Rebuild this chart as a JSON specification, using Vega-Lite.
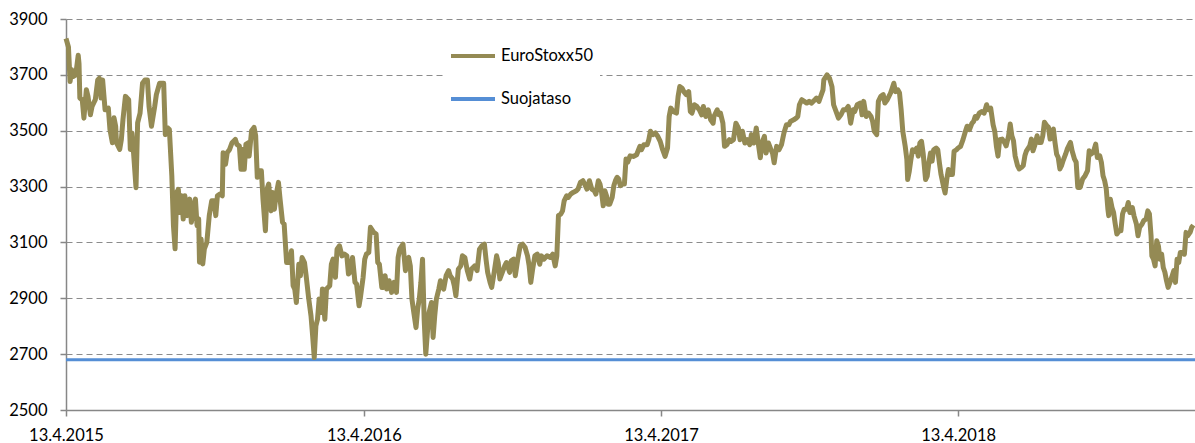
{
"$schema": "https://vega.github.io/schema/vega-lite/v6.json",
"width": 1129, "height": 391,
"autosize": {"type": "none"},
"padding": {"left": 66, "top": 19, "right": 0, "bottom": 33},
"background": "white",
"config": {"view": {"stroke": null}, "font": "Lato"},
"datasets": {
"suoja": [
{"date":"2015-04-13","value":2680},{"date":"2019-01-29","value":2680}
],
"stoxx": [
{"date":"2015-04-13","value":3830},{"date":"2015-04-16","value":3800},{"date":"2015-04-18","value":3676},{"date":"2015-04-20","value":3718},{"date":"2015-04-22","value":3694},{"date":"2015-04-25","value":3700},{"date":"2015-04-28","value":3770},{"date":"2015-04-29","value":3740},{"date":"2015-04-30","value":3617},
{"date":"2015-05-03","value":3610},{"date":"2015-05-05","value":3545},{"date":"2015-05-08","value":3647},{"date":"2015-05-10","value":3623},{"date":"2015-05-13","value":3557},{"date":"2015-05-15","value":3587},{"date":"2015-05-19","value":3611},{"date":"2015-05-22","value":3682},{"date":"2015-05-24","value":3688},{"date":"2015-05-26","value":3617},{"date":"2015-05-28","value":3682},{"date":"2015-05-31","value":3575},
{"date":"2015-06-04","value":3581},{"date":"2015-06-06","value":3504},{"date":"2015-06-09","value":3457},{"date":"2015-06-11","value":3546},{"date":"2015-06-13","value":3516},{"date":"2015-06-14","value":3457},{"date":"2015-06-18","value":3433},{"date":"2015-06-20","value":3468},{"date":"2015-06-22","value":3540},{"date":"2015-06-25","value":3623},{"date":"2015-06-29","value":3611},
{"date":"2015-07-01","value":3433},{"date":"2015-07-03","value":3492},{"date":"2015-07-05","value":3421},{"date":"2015-07-08","value":3296},{"date":"2015-07-10","value":3528},{"date":"2015-07-13","value":3563},{"date":"2015-07-16","value":3670},{"date":"2015-07-19","value":3682},{"date":"2015-07-22","value":3682},{"date":"2015-07-24","value":3587},{"date":"2015-07-27","value":3516},{"date":"2015-07-31","value":3587},
{"date":"2015-08-02","value":3629},{"date":"2015-08-06","value":3670},{"date":"2015-08-09","value":3670},{"date":"2015-08-11","value":3670},{"date":"2015-08-13","value":3486},{"date":"2015-08-16","value":3510},{"date":"2015-08-18","value":3504},{"date":"2015-08-21","value":3338},{"date":"2015-08-23","value":3160},{"date":"2015-08-25","value":3077},{"date":"2015-08-27","value":3279},{"date":"2015-08-29","value":3290},{"date":"2015-08-31","value":3207},
{"date":"2015-09-02","value":3267},{"date":"2015-09-04","value":3184},{"date":"2015-09-06","value":3267},{"date":"2015-09-09","value":3196},{"date":"2015-09-12","value":3255},{"date":"2015-09-14","value":3172},{"date":"2015-09-17","value":3231},{"date":"2015-09-19","value":3255},{"date":"2015-09-21","value":3160},{"date":"2015-09-23","value":3184},{"date":"2015-09-24","value":3029},{"date":"2015-09-26","value":3112},{"date":"2015-09-28","value":3023},{"date":"2015-09-30","value":3077},
{"date":"2015-10-03","value":3100},{"date":"2015-10-06","value":3196},{"date":"2015-10-09","value":3249},{"date":"2015-10-12","value":3249},{"date":"2015-10-14","value":3196},{"date":"2015-10-16","value":3267},{"date":"2015-10-19","value":3273},{"date":"2015-10-22","value":3267},{"date":"2015-10-23","value":3421},{"date":"2015-10-26","value":3380},{"date":"2015-10-28","value":3421},{"date":"2015-10-31","value":3433},
{"date":"2015-11-03","value":3457},{"date":"2015-11-07","value":3469},{"date":"2015-11-09","value":3451},{"date":"2015-11-12","value":3445},{"date":"2015-11-14","value":3362},{"date":"2015-11-16","value":3433},{"date":"2015-11-18","value":3362},{"date":"2015-11-20","value":3451},{"date":"2015-11-23","value":3457},{"date":"2015-11-24","value":3409},{"date":"2015-11-27","value":3500},{"date":"2015-11-30","value":3512},
{"date":"2015-12-02","value":3482},{"date":"2015-12-04","value":3333},{"date":"2015-12-07","value":3357},{"date":"2015-12-09","value":3357},{"date":"2015-12-11","value":3255},{"date":"2015-12-14","value":3142},{"date":"2015-12-16","value":3291},{"date":"2015-12-18","value":3309},{"date":"2015-12-21","value":3213},{"date":"2015-12-23","value":3279},{"date":"2015-12-25","value":3219},{"date":"2015-12-27","value":3267},{"date":"2015-12-30","value":3315},
{"date":"2016-01-01","value":3255},{"date":"2016-01-04","value":3172},{"date":"2016-01-06","value":3166},{"date":"2016-01-09","value":3028},{"date":"2016-01-12","value":3028},{"date":"2016-01-15","value":3070},{"date":"2016-01-17","value":2945},{"date":"2016-01-19","value":2933},{"date":"2016-01-21","value":2885},{"date":"2016-01-24","value":3022},{"date":"2016-01-26","value":2981},{"date":"2016-01-28","value":3046},{"date":"2016-01-31","value":3028},
{"date":"2016-02-02","value":2981},{"date":"2016-02-05","value":2903},{"date":"2016-02-08","value":2837},{"date":"2016-02-10","value":2766},{"date":"2016-02-12","value":2688},{"date":"2016-02-14","value":2801},{"date":"2016-02-16","value":2825},{"date":"2016-02-18","value":2897},{"date":"2016-02-21","value":2849},{"date":"2016-02-22","value":2933},{"date":"2016-02-25","value":2825},{"date":"2016-02-27","value":2933},
{"date":"2016-03-02","value":2945},{"date":"2016-03-04","value":3022},{"date":"2016-03-06","value":3040},{"date":"2016-03-09","value":2975},{"date":"2016-03-11","value":3076},{"date":"2016-03-14","value":3088},{"date":"2016-03-17","value":3052},{"date":"2016-03-20","value":3058},{"date":"2016-03-23","value":3052},{"date":"2016-03-25","value":2987},{"date":"2016-03-27","value":2993},{"date":"2016-03-30","value":3046},
{"date":"2016-04-02","value":2957},{"date":"2016-04-04","value":2951},{"date":"2016-04-07","value":2873},{"date":"2016-04-09","value":2909},{"date":"2016-04-12","value":2975},{"date":"2016-04-14","value":3040},{"date":"2016-04-16","value":3058},{"date":"2016-04-19","value":3064},{"date":"2016-04-21","value":3154},{"date":"2016-04-25","value":3136},{"date":"2016-04-28","value":3130},{"date":"2016-04-30","value":3028},
{"date":"2016-05-02","value":3022},{"date":"2016-05-05","value":2939},{"date":"2016-05-07","value":2939},{"date":"2016-05-09","value":2981},{"date":"2016-05-11","value":2933},{"date":"2016-05-14","value":2963},{"date":"2016-05-17","value":2921},{"date":"2016-05-20","value":2957},{"date":"2016-05-23","value":2921},{"date":"2016-05-25","value":3046},{"date":"2016-05-27","value":3076},{"date":"2016-05-31","value":3094},
{"date":"2016-06-03","value":2999},{"date":"2016-06-05","value":3040},{"date":"2016-06-07","value":3046},{"date":"2016-06-09","value":3016},{"date":"2016-06-11","value":2897},{"date":"2016-06-13","value":2855},{"date":"2016-06-16","value":2795},{"date":"2016-06-18","value":2861},{"date":"2016-06-20","value":2897},{"date":"2016-06-22","value":2957},{"date":"2016-06-24","value":3040},{"date":"2016-06-26","value":2825},{"date":"2016-06-28","value":2700},{"date":"2016-06-30","value":2778},
{"date":"2016-07-02","value":2849},{"date":"2016-07-05","value":2885},{"date":"2016-07-07","value":2760},{"date":"2016-07-09","value":2837},{"date":"2016-07-11","value":2897},{"date":"2016-07-14","value":2933},{"date":"2016-07-16","value":2963},{"date":"2016-07-20","value":2933},{"date":"2016-07-23","value":2981},{"date":"2016-07-26","value":2999},{"date":"2016-07-28","value":2981},{"date":"2016-07-31","value":2969},
{"date":"2016-08-02","value":2945},{"date":"2016-08-04","value":2909},{"date":"2016-08-07","value":3004},{"date":"2016-08-10","value":3016},{"date":"2016-08-12","value":3052},{"date":"2016-08-15","value":3046},{"date":"2016-08-18","value":2999},{"date":"2016-08-21","value":2969},{"date":"2016-08-23","value":3004},{"date":"2016-08-27","value":3016},{"date":"2016-08-30","value":2999},
{"date":"2016-09-02","value":3076},{"date":"2016-09-05","value":3088},{"date":"2016-09-08","value":3094},{"date":"2016-09-10","value":3040},{"date":"2016-09-12","value":2993},{"date":"2016-09-15","value":2957},{"date":"2016-09-17","value":2939},{"date":"2016-09-20","value":2993},{"date":"2016-09-23","value":3052},{"date":"2016-09-25","value":3028},{"date":"2016-09-27","value":2969},{"date":"2016-09-30","value":2993},
{"date":"2016-10-03","value":3016},{"date":"2016-10-05","value":3028},{"date":"2016-10-09","value":2993},{"date":"2016-10-11","value":3034},{"date":"2016-10-14","value":3040},{"date":"2016-10-16","value":2981},{"date":"2016-10-19","value":3040},{"date":"2016-10-22","value":3088},{"date":"2016-10-25","value":3094},{"date":"2016-10-28","value":3082},{"date":"2016-10-31","value":3052},
{"date":"2016-11-02","value":3016},{"date":"2016-11-04","value":2957},{"date":"2016-11-06","value":2999},{"date":"2016-11-09","value":3052},{"date":"2016-11-12","value":3058},{"date":"2016-11-15","value":3022},{"date":"2016-11-17","value":3052},{"date":"2016-11-20","value":3040},{"date":"2016-11-24","value":3052},{"date":"2016-11-28","value":3046},
{"date":"2016-12-01","value":3058},{"date":"2016-12-04","value":3016},{"date":"2016-12-06","value":3052},{"date":"2016-12-08","value":3196},{"date":"2016-12-11","value":3202},{"date":"2016-12-13","value":3213},{"date":"2016-12-15","value":3249},{"date":"2016-12-18","value":3267},{"date":"2016-12-20","value":3261},{"date":"2016-12-23","value":3273},{"date":"2016-12-26","value":3279},{"date":"2016-12-30","value":3285},
{"date":"2017-01-01","value":3291},{"date":"2017-01-04","value":3315},{"date":"2017-01-07","value":3321},{"date":"2017-01-10","value":3303},{"date":"2017-01-12","value":3291},{"date":"2017-01-15","value":3321},{"date":"2017-01-18","value":3291},{"date":"2017-01-21","value":3285},{"date":"2017-01-23","value":3273},{"date":"2017-01-26","value":3321},{"date":"2017-01-28","value":3309},{"date":"2017-01-30","value":3279},
{"date":"2017-02-01","value":3231},{"date":"2017-02-03","value":3285},{"date":"2017-02-05","value":3267},{"date":"2017-02-07","value":3237},{"date":"2017-02-09","value":3237},{"date":"2017-02-12","value":3261},{"date":"2017-02-14","value":3303},{"date":"2017-02-16","value":3321},{"date":"2017-02-18","value":3333},{"date":"2017-02-20","value":3327},{"date":"2017-02-22","value":3303},{"date":"2017-02-25","value":3309},{"date":"2017-02-27","value":3309},
{"date":"2017-03-01","value":3399},{"date":"2017-03-03","value":3387},{"date":"2017-03-06","value":3410},{"date":"2017-03-10","value":3408},{"date":"2017-03-14","value":3414},{"date":"2017-03-18","value":3444},{"date":"2017-03-20","value":3432},{"date":"2017-03-23","value":3450},{"date":"2017-03-27","value":3450},{"date":"2017-03-29","value":3468},{"date":"2017-03-31","value":3498},
{"date":"2017-04-03","value":3486},{"date":"2017-04-06","value":3492},{"date":"2017-04-09","value":3480},{"date":"2017-04-12","value":3462},{"date":"2017-04-15","value":3432},{"date":"2017-04-18","value":3408},{"date":"2017-04-21","value":3438},{"date":"2017-04-23","value":3551},{"date":"2017-04-25","value":3581},{"date":"2017-04-28","value":3569},
{"date":"2017-05-02","value":3563},{"date":"2017-05-04","value":3623},{"date":"2017-05-06","value":3658},{"date":"2017-05-09","value":3652},{"date":"2017-05-11","value":3640},{"date":"2017-05-14","value":3629},{"date":"2017-05-17","value":3640},{"date":"2017-05-19","value":3569},{"date":"2017-05-21","value":3563},{"date":"2017-05-24","value":3593},{"date":"2017-05-27","value":3587},{"date":"2017-05-30","value":3575},
{"date":"2017-06-02","value":3557},{"date":"2017-06-04","value":3587},{"date":"2017-06-07","value":3551},{"date":"2017-06-10","value":3575},{"date":"2017-06-13","value":3539},{"date":"2017-06-16","value":3527},{"date":"2017-06-17","value":3551},{"date":"2017-06-21","value":3575},{"date":"2017-06-23","value":3557},{"date":"2017-06-25","value":3563},{"date":"2017-06-28","value":3527},{"date":"2017-06-30","value":3444},
{"date":"2017-07-03","value":3450},{"date":"2017-07-06","value":3468},{"date":"2017-07-08","value":3462},{"date":"2017-07-11","value":3468},{"date":"2017-07-14","value":3527},{"date":"2017-07-17","value":3510},{"date":"2017-07-19","value":3468},{"date":"2017-07-22","value":3498},{"date":"2017-07-25","value":3456},{"date":"2017-07-28","value":3468},{"date":"2017-07-31","value":3450},
{"date":"2017-08-02","value":3486},{"date":"2017-08-05","value":3456},{"date":"2017-08-08","value":3510},{"date":"2017-08-11","value":3444},{"date":"2017-08-13","value":3403},{"date":"2017-08-15","value":3456},{"date":"2017-08-18","value":3480},{"date":"2017-08-20","value":3420},{"date":"2017-08-23","value":3456},{"date":"2017-08-26","value":3432},{"date":"2017-08-28","value":3420},{"date":"2017-08-30","value":3385},
{"date":"2017-09-02","value":3444},{"date":"2017-09-05","value":3432},{"date":"2017-09-08","value":3450},{"date":"2017-09-11","value":3492},{"date":"2017-09-14","value":3521},{"date":"2017-09-17","value":3521},{"date":"2017-09-19","value":3533},{"date":"2017-09-23","value":3539},{"date":"2017-09-26","value":3545},{"date":"2017-09-28","value":3551},{"date":"2017-09-30","value":3593},
{"date":"2017-10-03","value":3611},{"date":"2017-10-06","value":3605},{"date":"2017-10-09","value":3599},{"date":"2017-10-12","value":3605},{"date":"2017-10-15","value":3599},{"date":"2017-10-19","value":3611},{"date":"2017-10-21","value":3617},{"date":"2017-10-24","value":3605},{"date":"2017-10-29","value":3646},{"date":"2017-10-30","value":3682},
{"date":"2017-11-03","value":3700},{"date":"2017-11-06","value":3688},{"date":"2017-11-09","value":3658},{"date":"2017-11-11","value":3593},{"date":"2017-11-14","value":3569},{"date":"2017-11-17","value":3545},{"date":"2017-11-20","value":3557},{"date":"2017-11-23","value":3575},{"date":"2017-11-26","value":3575},{"date":"2017-11-29","value":3587},
{"date":"2017-12-02","value":3527},{"date":"2017-12-05","value":3575},{"date":"2017-12-07","value":3569},{"date":"2017-12-10","value":3593},{"date":"2017-12-14","value":3599},{"date":"2017-12-16","value":3557},{"date":"2017-12-18","value":3605},{"date":"2017-12-21","value":3551},{"date":"2017-12-24","value":3563},{"date":"2017-12-27","value":3551},{"date":"2017-12-29","value":3533},{"date":"2017-12-31","value":3498},
{"date":"2018-01-03","value":3486},{"date":"2018-01-05","value":3605},{"date":"2018-01-08","value":3623},{"date":"2018-01-11","value":3629},{"date":"2018-01-13","value":3599},{"date":"2018-01-16","value":3611},{"date":"2018-01-20","value":3635},{"date":"2018-01-22","value":3652},{"date":"2018-01-24","value":3670},{"date":"2018-01-26","value":3640},{"date":"2018-01-29","value":3646},{"date":"2018-01-31","value":3635},
{"date":"2018-02-02","value":3575},{"date":"2018-02-04","value":3498},{"date":"2018-02-07","value":3444},{"date":"2018-02-09","value":3397},{"date":"2018-02-10","value":3325},{"date":"2018-02-12","value":3355},{"date":"2018-02-14","value":3397},{"date":"2018-02-16","value":3432},{"date":"2018-02-19","value":3426},{"date":"2018-02-21","value":3438},{"date":"2018-02-23","value":3409},{"date":"2018-02-25","value":3456},{"date":"2018-02-27","value":3462},
{"date":"2018-03-01","value":3420},{"date":"2018-03-04","value":3325},{"date":"2018-03-06","value":3337},{"date":"2018-03-08","value":3385},{"date":"2018-03-10","value":3420},{"date":"2018-03-12","value":3391},{"date":"2018-03-14","value":3432},{"date":"2018-03-17","value":3438},{"date":"2018-03-19","value":3432},{"date":"2018-03-21","value":3385},{"date":"2018-03-23","value":3343},{"date":"2018-03-26","value":3301},{"date":"2018-03-28","value":3277},{"date":"2018-03-30","value":3325},
{"date":"2018-04-01","value":3361},{"date":"2018-04-03","value":3343},{"date":"2018-04-06","value":3343},{"date":"2018-04-08","value":3426},{"date":"2018-04-11","value":3432},{"date":"2018-04-13","value":3438},{"date":"2018-04-16","value":3444},{"date":"2018-04-19","value":3468},{"date":"2018-04-22","value":3498},{"date":"2018-04-24","value":3516},{"date":"2018-04-27","value":3504},{"date":"2018-04-30","value":3527},
{"date":"2018-05-02","value":3533},{"date":"2018-05-04","value":3551},{"date":"2018-05-06","value":3545},{"date":"2018-05-09","value":3563},{"date":"2018-05-12","value":3569},{"date":"2018-05-15","value":3563},{"date":"2018-05-18","value":3593},{"date":"2018-05-20","value":3575},{"date":"2018-05-23","value":3581},{"date":"2018-05-26","value":3521},{"date":"2018-05-28","value":3498},{"date":"2018-05-30","value":3444},
{"date":"2018-06-01","value":3409},{"date":"2018-06-03","value":3468},{"date":"2018-06-06","value":3470},{"date":"2018-06-09","value":3458},{"date":"2018-06-11","value":3446},{"date":"2018-06-14","value":3482},{"date":"2018-06-16","value":3524},{"date":"2018-06-18","value":3482},{"date":"2018-06-20","value":3464},{"date":"2018-06-22","value":3410},{"date":"2018-06-25","value":3375},{"date":"2018-06-27","value":3363},{"date":"2018-06-30","value":3369},
{"date":"2018-07-02","value":3375},{"date":"2018-07-04","value":3410},{"date":"2018-07-06","value":3428},{"date":"2018-07-10","value":3446},{"date":"2018-07-12","value":3470},{"date":"2018-07-14","value":3428},{"date":"2018-07-16","value":3446},{"date":"2018-07-19","value":3482},{"date":"2018-07-21","value":3458},{"date":"2018-07-24","value":3458},{"date":"2018-07-26","value":3482},{"date":"2018-07-28","value":3530},{"date":"2018-07-31","value":3518},
{"date":"2018-08-02","value":3512},{"date":"2018-08-04","value":3470},{"date":"2018-08-06","value":3494},{"date":"2018-08-08","value":3506},{"date":"2018-08-10","value":3458},{"date":"2018-08-12","value":3416},{"date":"2018-08-14","value":3404},{"date":"2018-08-16","value":3363},{"date":"2018-08-18","value":3375},{"date":"2018-08-20","value":3393},{"date":"2018-08-23","value":3416},{"date":"2018-08-25","value":3434},{"date":"2018-08-29","value":3458},{"date":"2018-08-31","value":3428},
{"date":"2018-09-03","value":3398},{"date":"2018-09-05","value":3387},{"date":"2018-09-07","value":3297},{"date":"2018-09-10","value":3297},{"date":"2018-09-13","value":3327},{"date":"2018-09-16","value":3339},{"date":"2018-09-19","value":3357},{"date":"2018-09-21","value":3428},{"date":"2018-09-23","value":3416},{"date":"2018-09-26","value":3422},{"date":"2018-09-29","value":3452},
{"date":"2018-10-01","value":3404},{"date":"2018-10-04","value":3410},{"date":"2018-10-06","value":3387},{"date":"2018-10-08","value":3339},{"date":"2018-10-10","value":3321},{"date":"2018-10-12","value":3291},{"date":"2018-10-14","value":3219},{"date":"2018-10-15","value":3196},{"date":"2018-10-17","value":3255},{"date":"2018-10-19","value":3225},{"date":"2018-10-21","value":3207},{"date":"2018-10-23","value":3166},{"date":"2018-10-25","value":3130},{"date":"2018-10-28","value":3142},{"date":"2018-10-30","value":3142},
{"date":"2018-11-01","value":3202},{"date":"2018-11-03","value":3219},{"date":"2018-11-06","value":3219},{"date":"2018-11-08","value":3243},{"date":"2018-11-10","value":3207},{"date":"2018-11-13","value":3225},{"date":"2018-11-15","value":3196},{"date":"2018-11-18","value":3166},{"date":"2018-11-20","value":3124},{"date":"2018-11-22","value":3154},{"date":"2018-11-25","value":3166},{"date":"2018-11-27","value":3178},{"date":"2018-11-30","value":3184},
{"date":"2018-12-02","value":3213},{"date":"2018-12-04","value":3202},{"date":"2018-12-06","value":3124},{"date":"2018-12-07","value":3052},{"date":"2018-12-09","value":3040},{"date":"2018-12-11","value":3016},{"date":"2018-12-13","value":3106},{"date":"2018-12-15","value":3088},{"date":"2018-12-17","value":3040},{"date":"2018-12-19","value":3058},{"date":"2018-12-21","value":3010},{"date":"2018-12-23","value":2993},{"date":"2018-12-25","value":2963},{"date":"2018-12-27","value":2939},{"date":"2018-12-30","value":2963},
{"date":"2019-01-01","value":2981},{"date":"2019-01-03","value":2999},{"date":"2019-01-05","value":2957},{"date":"2019-01-07","value":3040},{"date":"2019-01-09","value":3028},{"date":"2019-01-11","value":3064},{"date":"2019-01-14","value":3064},{"date":"2019-01-16","value":3058},{"date":"2019-01-18","value":3136},{"date":"2019-01-20","value":3124},{"date":"2019-01-23","value":3136},{"date":"2019-01-25","value":3154},{"date":"2019-01-27","value":3162}
]
},
"encoding": {
  "x": {"field": "date", "type": "temporal",
    "scale": {"type": "utc", "domain": [{"utc": true, "year": 2015, "month": 4, "date": 13}, {"utc": true, "year": 2019, "month": 1, "date": 29}]},
    "axis": {"values": [{"utc": true, "year": 2015, "month": 4, "date": 13}, {"utc": true, "year": 2016, "month": 4, "date": 13}, {"utc": true, "year": 2017, "month": 4, "date": 13}, {"utc": true, "year": 2018, "month": 4, "date": 13}],
      "format": "%-d.%-m.%Y", "title": null, "grid": false, "domainColor": "#878787", "domainWidth": 1.5, "tickColor": "#878787", "tickWidth": 1.5, "tickSize": 6,
      "labelFont": "Lato", "labelFontSize": 16.5, "labelColor": "#000000", "labelPadding": 11, "labelFlush": false, "labelOverlap": false}},
  "y": {"field": "value", "type": "quantitative",
    "scale": {"domain": [2500, 3900], "nice": false, "zero": false},
    "axis": {"values": [2500, 2700, 2900, 3100, 3300, 3500, 3700, 3900], "format": "d", "title": null, "grid": true, "gridDash": [6, 4], "gridColor": "#8c8c8c", "gridWidth": 1.2,
      "domainColor": "#878787", "domainWidth": 1.5, "tickColor": "#878787", "tickWidth": 1.5, "tickSize": 6,
      "labelFont": "Lato", "labelFontSize": 16.5, "labelColor": "#000000", "labelPadding": 13}}
},
"layer": [
  {"data": {"name": "suoja"},
   "mark": {"type": "line", "strokeWidth": 3, "strokeCap": "butt"},
   "encoding": {"color": {"datum": "Suojataso", "type": "nominal",
      "scale": {"domain": ["EuroStoxx50", "Suojataso"], "range": ["#948A54", "#558ED5"]},
      "legend": {"orient": "none", "legendX": 377, "legendY": 12, "title": null, "symbolType": "stroke", "symbolSize": 1936, "symbolStrokeWidth": 4,
        "clipHeight": 38, "rowPadding": 5, "padding": 6, "fillColor": "white", "labelFont": "Lato", "labelFontSize": 16.5, "labelColor": "#000000", "labelOffset": 4,
        "symbolOpacity": 1}}}},
  {"data": {"name": "stoxx"},
   "mark": {"type": "line", "strokeWidth": 5, "strokeJoin": "round", "strokeCap": "butt"},
   "encoding": {"color": {"datum": "EuroStoxx50", "type": "nominal"}}}
]
}
